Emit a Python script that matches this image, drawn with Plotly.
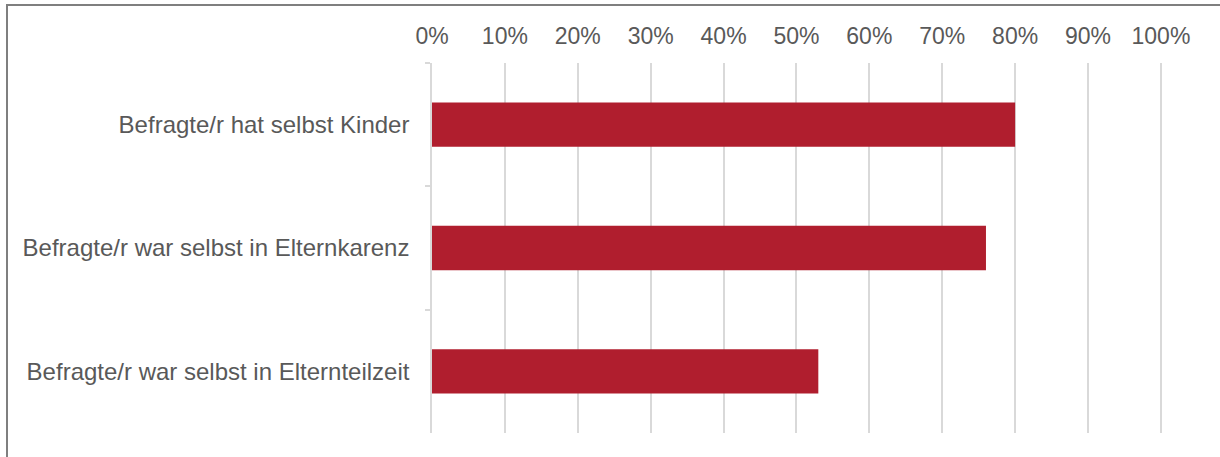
import plotly.graph_objects as go

categories = [
    "Befragte/r hat selbst Kinder",
    "Befragte/r war selbst in Elternkarenz",
    "Befragte/r war selbst in Elternteilzeit",
]
values = [80, 76, 53]
x_ticks = list(range(0, 101, 10))
x_tick_labels = [f"{t}%" for t in x_ticks]

W, H = 1220, 457
ml, mr, mt, mb = 432, 58, 63, 24
pw = W - ml - mr
ph = H - mt - mb

fig = go.Figure(
    go.Bar(
        x=values,
        y=categories,
        orientation="h",
        marker=dict(color="#B01E2E", line=dict(width=0)),
        hoverinfo="x+y",
    )
)

font_color = "#595959"
fig.update_layout(
    width=W,
    height=H,
    margin=dict(l=ml, r=mr, t=mt, b=mb),
    paper_bgcolor="white",
    plot_bgcolor="white",
    bargap=0.64,
    showlegend=False,
    font=dict(family="Liberation Sans, Arial, sans-serif", size=23, color=font_color),
    xaxis=dict(
        side="top",
        range=[0, 100.15],
        tickvals=x_ticks,
        ticktext=x_tick_labels,
        showgrid=True,
        gridcolor="#d9d9d9",
        gridwidth=1.5,
        zeroline=False,
        showline=False,
        ticks="",
        ticklabelstandoff=13,
        tickfont=dict(size=23, color=font_color),
    ),
    yaxis=dict(
        autorange="reversed",
        showline=True,
        linecolor="#d9d9d9",
        linewidth=1.5,
        ticks="outside",
        tickson="boundaries",
        ticklen=5,
        tickcolor="#d9d9d9",
        tickwidth=1.5,
        showgrid=False,
        ticklabelstandoff=16,
        tickfont=dict(size=24, color=font_color),
    ),
)

# outer frame of the chart area
x0 = (7 - ml) / pw
y1 = 1 + (mt - 5) / ph
x1 = (W + 5 - ml) / pw
y0 = -(H + 5 - (mt + ph)) / ph
fig.add_shape(
    type="rect",
    xref="paper",
    yref="paper",
    x0=x0,
    x1=x1,
    y0=y0,
    y1=y1,
    line=dict(color="#7f7f7f", width=2),
    fillcolor="rgba(0,0,0,0)",
    layer="below",
)

fig.write_html(
    "out.html",
    config={"displayModeBar": False},
    post_script="document.body.style.margin='0';document.body.style.overflow='hidden';",
)
